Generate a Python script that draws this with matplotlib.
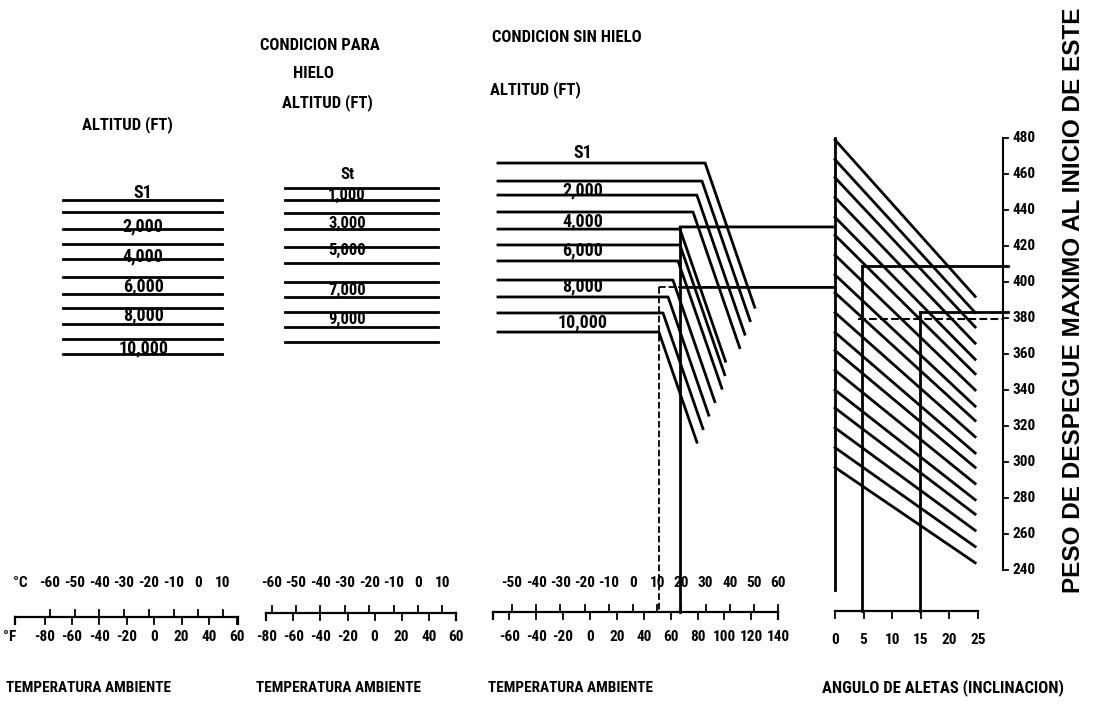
import matplotlib
matplotlib.use("Agg")
import matplotlib.pyplot as plt
from matplotlib.patches import ConnectionPatch

W_PX, H_PX = 1094, 708
plt.rcParams["font.family"] = ["Roboto Condensed", "DejaVu Sans"]

# shared vertical scale of the nomogram: max takeoff weight
W_TOP, W_BOT = 556.7, 163.3

# panel 1: altitude lines (left)
p1_line_w = [445.6, 438.9, 429.4, 421.1, 412.8, 402.8, 393.3, 385.6, 376.7, 368.3, 360.0]
p1_line_c = [-54.7, 9.6]
p1_labels = ["S1", "2,000", "4,000", "6,000", "8,000", "10,000"]
p1_label_w = [449.3, 430.7, 414.1, 397.4, 381.7, 363.2]

# panel 2: icing condition
p2_line_w = [452.2, 445.6, 438.3, 429.4, 419.4, 410.6, 400.0, 391.7, 383.3, 375.0, 366.7]
p2_line_c = [-54.5, 8.2]
p2_labels = ["St", "1,000", "3,000", "5,000", "7,000", "9,000"]
p2_label_w = [459.5, 448.0, 432.6, 417.4, 395.2, 378.9]

# panel 3: no icing condition
p3_line_w = [466.1, 456.1, 448.3, 438.9, 429.4, 420.6, 411.7, 401.1, 391.7, 382.8, 372.2]
p3_start_c = -55.8
p3_bend_c = [29.8, 28.5, 26.4, 24.8, 19.4, 19.4, 18.6, 16.5, 14.5, 12.4, 10.7]
p3_end_c = [50.3, 48.4, 46.2, 44.1, 38.2, 37.9, 36.7, 33.8, 31.3, 28.9, 26.4]
p3_end_w = [386.0, 378.5, 371.0, 363.5, 356.0, 348.5, 341.0, 333.5, 326.0, 318.5, 311.0]
p3_labels = ["S1", "2,000", "4,000", "6,000", "8,000", "10,000"]
p3_label_w = [471.5, 451.1, 433.5, 417.8, 397.4, 377.4]

# temperature scales
c_ticks_1 = [-60, -50, -40, -30, -20, -10, 0, 10]
f_ticks_1 = [-80, -60, -40, -20, 0, 20, 40, 60]
c_ticks_3 = [-50, -40, -30, -20, -10, 0, 10, 20, 30, 40, 50, 60]
f_ticks_3 = [-60, -40, -20, 0, 20, 40, 60, 80, 100, 120, 140]

# panel 4: flap angle correction
flap_ticks = [0, 5, 10, 15, 20, 25]
p4_w0 = [479, 468, 458, 447, 436, 426, 415, 404, 394, 383, 372, 362, 351, 340, 330, 319, 308, 297]
p4_w25 = [392, 383, 375, 366, 357, 349, 340, 331, 323, 314, 305, 297, 288, 279, 271, 262, 253, 244]
weight_ticks = [480, 460, 440, 420, 400, 380, 360, 340, 320, 300, 280, 260, 240]

# worked example
ex_temp_c = [19.4, 10.7]
ex_weight = [430.6, 397.0]
ex_flap = [4.7, 14.9]
ex_result_w = [408.9, 383.3, 379.4]

LW = 2.0
TICK_FS = 11
fig = plt.figure(figsize=(W_PX / 100, H_PX / 100), dpi=100)


def panel(x0, x1, xlim):
    ax = fig.add_axes([x0 / W_PX, 0, (x1 - x0) / W_PX, 1])
    ax.set_xlim(*xlim)
    ax.set_ylim(W_BOT, W_TOP)
    ax.axis("off")
    return ax


def ftoc(f):
    return (f - 32) / 1.8


def temp_scale(ax, lo, hi, cts, fts, y, y_c, y_f):
    ax.plot([lo, hi], [y, y], color="k", lw=1.6)
    ax.plot([lo, lo], [y, y - 4], color="k", lw=1.6)
    ax.plot([hi, hi], [y, y - 4], color="k", lw=1.6)
    for c in cts:
        ax.plot([c, c], [y, y + 4], color="k", lw=1.3)
        ax.text(c, y_c, str(c), ha="center", va="center", fontsize=TICK_FS, fontweight="bold")
    for f in fts:
        ax.plot([ftoc(f), ftoc(f)], [y, y - 4], color="k", lw=1.3)
        ax.text(ftoc(f), y_f, str(f), ha="center", va="center", fontsize=TICK_FS, fontweight="bold")


def fig_text(x, y, s, **kw):
    kw.setdefault("fontsize", 12)
    kw.setdefault("fontweight", "bold")
    fig.text(x / W_PX, 1 - y / H_PX, s, **kw)


# ---- panel 1
ax1 = panel(0, 250, (-80.24, 20.97))
for w in p1_line_w:
    ax1.plot(p1_line_c, [w, w], color="k", lw=LW)
for s, w in zip(p1_labels, p1_label_w):
    ax1.text(-22.3, w, s, ha="center", va="center", fontsize=13, fontweight="bold")
temp_scale(ax1, -74.2, 16.1, c_ticks_1, f_ticks_1, 213.9, 232.8, 202.8)
fig_text(20, 583, "°C", ha="center", va="center", fontsize=TICK_FS)
fig_text(10, 637, "°F", ha="center", va="center", fontsize=TICK_FS)

# ---- panel 2
ax2 = panel(250, 470, (-68.85, 21.31))
for w in p2_line_w:
    ax2.plot(p2_line_c, [w, w], color="k", lw=LW)
for s, w in zip(p2_labels, p2_label_w):
    ax2.text(-29.1, w, s, ha="center", va="center", fontsize=12, fontweight="bold")
temp_scale(ax2, ftoc(-80), ftoc(60), c_ticks_1, f_ticks_1, 216.1, 232.8, 202.8)

# ---- panel 3
ax3 = panel(470, 800, (-67.36, 69.01))
for w, bc, ec, ew in zip(p3_line_w, p3_bend_c, p3_end_c, p3_end_w):
    ax3.plot([p3_start_c, bc, ec], [w, w, ew], color="k", lw=LW)
for s, w in zip(p3_labels, p3_label_w):
    ax3.text(-20.7, w, s, ha="center", va="center", fontsize=13, fontweight="bold")
temp_scale(ax3, ftoc(-72), ftoc(140), c_ticks_3, f_ticks_3, 216.7, 232.8, 202.8)

# ---- panel 4
ax4 = panel(800, 1094, (-6.12, 45.28))
for w0, w25 in zip(p4_w0, p4_w25):
    ax4.plot([0, 24.5], [w0, w25], color="k", lw=LW)
ax4.plot([0, 0], [480, 228.9], color="k", lw=LW)
ax4.plot([0, 25], [217.2, 217.2], color="k", lw=1.6)
for fl in flap_ticks:
    ax4.plot([fl, fl], [217.2, 213.2], color="k", lw=1.3)
    ax4.text(fl, 201.1, str(fl), ha="center", va="center", fontsize=TICK_FS, fontweight="bold")
ax4.plot([29.4, 29.4], [480, 240], color="k", lw=1.5)
for w in weight_ticks:
    ax4.plot([29.4, 30.2], [w, w], color="k", lw=1.3)
    ax4.text(31.0, w, str(w), ha="left", va="center", fontsize=TICK_FS, fontweight="bold")

# worked example lines
ax3.plot([ex_temp_c[0]] * 2, [ex_weight[0], 216.7], color="k", lw=LW)
ax3.plot([ex_temp_c[1]] * 2, [ex_weight[1], 216.7], color="k", lw=1.3, ls="--")
ax3.plot([ex_temp_c[1], ex_temp_c[0]], [ex_weight[1]] * 2, color="k", lw=1.3, ls="--")
for c, w in zip([ex_temp_c[0], ex_temp_c[0]], ex_weight):
    fig.add_artist(ConnectionPatch(xyA=(c, w), coordsA=ax3.transData,
                                   xyB=(0, w), coordsB=ax4.transData,
                                   color="k", lw=LW))
ax4.plot([ex_flap[0], 30.2], [ex_result_w[0]] * 2, color="k", lw=LW)
ax4.plot([ex_flap[0]] * 2, [ex_result_w[0], 217.2], color="k", lw=LW)
ax4.plot([ex_flap[1], 30.2], [ex_result_w[1]] * 2, color="k", lw=LW)
ax4.plot([ex_flap[1]] * 2, [ex_result_w[1], 217.2], color="k", lw=LW)
ax4.plot([4.0, 29.4], [ex_result_w[2]] * 2, color="k", lw=1.5, ls="--")

# titles
fig_text(127, 125, "ALTITUD (FT)", ha="center", va="center")
fig_text(320, 45, "CONDICION PARA", ha="center", va="center")
fig_text(313, 73, "HIELO", ha="center", va="center")
fig_text(327, 103, "ALTITUD (FT)", ha="center", va="center")
fig_text(567, 38, "CONDICION SIN HIELO", ha="center", va="center")
fig_text(535, 90, "ALTITUD (FT)", ha="center", va="center")
fig_text(88, 688, "TEMPERATURA AMBIENTE", ha="center", va="center", fontsize=11)
fig_text(338, 688, "TEMPERATURA AMBIENTE", ha="center", va="center", fontsize=11)
fig_text(570, 688, "TEMPERATURA AMBIENTE", ha="center", va="center", fontsize=11)
fig_text(943, 688, "ANGULO DE ALETAS (INCLINACION)", ha="center", va="center")
fig_text(1074, 300, "PESO DE DESPEGUE MAXIMO AL INICIO DE ESTE", ha="center", va="center",
         rotation=90, fontsize=17.5, family=["Liberation Sans", "DejaVu Sans"])

fig.savefig("out.png", dpi=100, facecolor="white")
